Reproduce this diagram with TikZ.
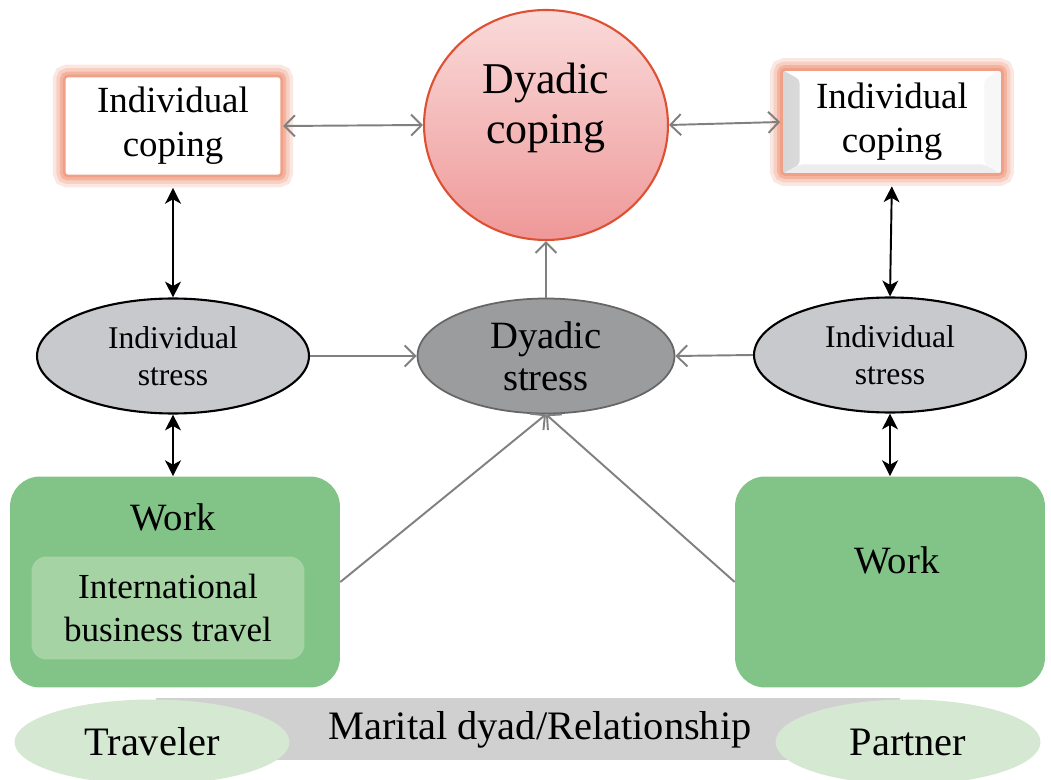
\documentclass[tikz,border=0pt]{standalone}
\usepackage{fontspec}
\setmainfont{Liberation Serif}
\usetikzlibrary{shapes.geometric,arrows.meta,calc,positioning}

\definecolor{workgreen}{RGB}{130,196,136}
\definecolor{ibtgreen}{RGB}{166,211,163}
\definecolor{couplegreen}{RGB}{213,232,210}
\definecolor{bandgray}{RGB}{208,208,208}
\definecolor{istressc}{RGB}{200,201,204}
\definecolor{dstressc}{RGB}{155,156,157}
\definecolor{copetop}{RGB}{250,218,218}
\definecolor{copebot}{RGB}{239,152,152}
\definecolor{coprim}{RGB}{222,80,50}
\definecolor{glowc}{RGB}{240,160,135}
\definecolor{arrowgray}{RGB}{128,128,128}

\tikzset{
	copbox/.style={rectangle,fill=white,minimum width=4.35cm,minimum height=2cm,
		inner sep=0pt,align=center,font=\fontsize{21}{25}\selectfont},
	glow/.style={preaction={draw=glowc!25,line width=13pt,rounded corners=6pt},
		preaction={draw=glowc!50,line width=9pt,rounded corners=5pt},
		preaction={draw=glowc!80,line width=5pt,rounded corners=3pt},
		draw=glowc,line width=1.5pt,rounded corners=2pt},
	bevel/.style={path picture={
			\fill[left color=gray!32,right color=white]
			(path picture bounding box.north west) -- ([xshift=.36cm,yshift=-.2cm]path picture bounding box.north west)
			-- ([xshift=.36cm,yshift=.2cm]path picture bounding box.south west) -- (path picture bounding box.south west) -- cycle;
			\fill[gray!14]
			(path picture bounding box.south west) -- ([xshift=.36cm,yshift=.2cm]path picture bounding box.south west)
			-- ([xshift=-.36cm,yshift=.2cm]path picture bounding box.south east) -- (path picture bounding box.south east) -- cycle;
			\fill[gray!6]
			(path picture bounding box.north east) -- ([xshift=-.36cm,yshift=-.2cm]path picture bounding box.north east)
			-- ([xshift=-.36cm,yshift=.2cm]path picture bounding box.south east) -- (path picture bounding box.south east) -- cycle;
	}},
	istress/.style={ellipse,draw=black,line width=1.2pt,fill=istressc,minimum width=5.44cm,
		minimum height=2.3cm,align=center,font=\fontsize{18}{21}\selectfont},
	dstress/.style={ellipse,draw=black!60,line width=1pt,fill=dstressc,minimum width=5.14cm,
		minimum height=2.3cm,align=center,font=\fontsize{22}{24}\selectfont},
	workbox/.style={rectangle,rounded corners=0.6cm,fill=workgreen,minimum height=4.22cm},
	worktext/.style={font=\fontsize{22}{26}\selectfont},
	ibtbox/.style={rectangle,rounded corners=0.3cm,fill=ibtgreen,minimum width=5.46cm,
		minimum height=2.06cm,align=center,font=\fontsize{20}{24}\selectfont},
	couple/.style={ellipse,fill=couplegreen,minimum width=5.5cm,minimum height=1.7cm,
		font=\fontsize{23}{26}\selectfont},
	garrow/.style={draw=arrowgray,line width=1.1pt,-{Straight Barb[length=6pt,width=12pt]}},
	gdarrow/.style={draw=arrowgray,line width=1.1pt,{Straight Barb[length=6pt,width=12pt]}-{Straight Barb[length=6pt,width=12pt]}},
	barrow/.style={draw=black,line width=1.1pt,{Stealth[length=9pt,width=9pt,inset=2.5pt]}-{Stealth[length=9pt,width=9pt,inset=2.5pt]}}
}

\begin{document}
\begin{tikzpicture}[x=0.02cm,y=-0.02cm]
\useasboundingbox (0,0) rectangle (1051,780);

% coping
\node[copbox,glow] (lcop) at (173,126) {Individual\\coping};
\node[copbox,glow,bevel,minimum width=4.42cm,minimum height=2.1cm] (rcop) at (892,122) {Individual\\coping};
\node[ellipse,draw=coprim,line width=1.2pt,top color=copetop,bottom color=copebot,
	minimum width=4.88cm,minimum height=4.6cm] (dcop) at (546,125) {};
\node[align=center,font=\fontsize{25}{29}\selectfont] (dcoptxt) at (546,108) {Dyadic\\coping};

% stress
\node[istress] (lstr) at (173,356) {Individual\\stress};
\node[dstress] (dstr) at (546,356) {Dyadic\\stress};
\node[istress] (rstr) at (890,355) {Individual\\stress};

% work
\node[workbox,minimum width=6.6cm] (lwork) at (175,582) {};
\node[worktext] (lworktxt) at (173,517) {Work};
\node[ibtbox] (ibt) at (168,608) {International\\business travel};
\node[workbox,minimum width=6.2cm] (rwork) at (890,582) {};
\node[worktext] (rworktxt) at (897,560) {Work};

% relationship
\node[fill=bandgray,minimum width=14.9cm,minimum height=1.24cm] (band) at (528,729) {};
\node[couple] (trav) at (152,742) {Traveler};
\node[couple,minimum width=5.3cm] (part) at (908,742) {Partner};
\node[font=\fontsize{23}{26}\selectfont] (bandtxt) at (540,730) {Marital dyad/Relationship};

% connectors
\draw[gdarrow] (lcop.east) -- (dcop.west);
\draw[gdarrow] (dcop.east) -- (rcop.west);
\draw[garrow] (lstr.east) -- (dstr.west);
\draw[garrow] (rstr.west) -- (dstr.east);
\draw[garrow] (dstr.north) -- (dcop.south);
\draw[garrow] (lwork.east) -- (dstr.south);
\draw[garrow] (rwork.west) -- (dstr.south);
\draw[barrow,shorten <=6pt] (lcop.south) -- (lstr.north);
\draw[barrow,shorten <=6pt] (rcop.south) -- (rstr.north);
\draw[barrow] (lstr.south) -- (lstr.south |- lwork.north);
\draw[barrow] (rstr.south) -- (rstr.south |- rwork.north);
\end{tikzpicture}
\end{document}
